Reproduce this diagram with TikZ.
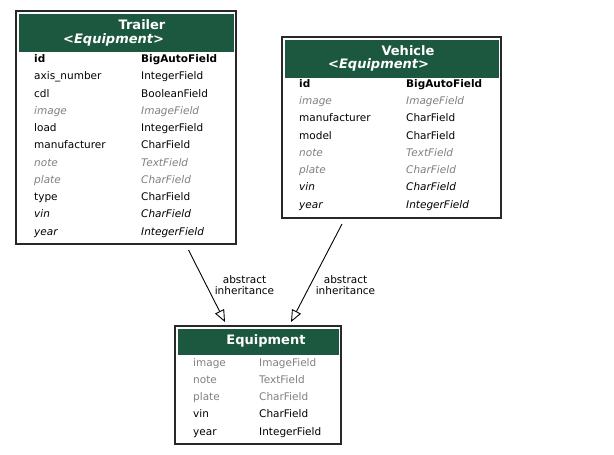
\documentclass[tikz,border=0pt]{standalone}
\usepackage{fontspec}
\setmainfont{DejaVu Sans}
\usetikzlibrary{arrows.meta}
\definecolor{hdr}{RGB}{28,88,64}
\definecolor{fgray}{RGB}{128,128,128}
\definecolor{bord}{RGB}{40,40,40}
\tikzset{
  frame/.style={draw=bord, line width=1.3pt, fill=white},
  head/.style={fill=hdr, draw=none},
  ttl/.style={inner sep=0pt, anchor=base, text=white, font=\fontsize{13}{15}\selectfont\bfseries},
  sub/.style={inner sep=0pt, anchor=base west, text=white, font=\fontsize{13}{15}\selectfont\bfseries\itshape},
  fld/.style={inner sep=0pt, anchor=base west, font=\fontsize{10.5}{12}\selectfont},
  pk/.style={fld, font=\fontsize{10.5}{12}\selectfont\bfseries},
  inh/.style={fld, text=fgray, font=\fontsize{10.5}{12}\selectfont\itshape},
  abs/.style={fld, font=\fontsize{10.5}{12}\selectfont\itshape},
  ghost/.style={fld, text=fgray},
  lbl/.style={inner sep=0pt, align=center, font=\fontsize{10.5}{11.5}\selectfont},
  inharrow/.style={draw=black, line width=0.9pt, -{Triangle[open, length=12pt, width=10pt, fill=white]}}
}
\begin{document}
\begin{tikzpicture}[x=1pt, y=-1pt]
\useasboundingbox (0,0) rectangle (614,455);
% ---------- Trailer ----------
\draw[frame] (16,11) rectangle (236,244);
\fill[head] (18.5,13.5) rectangle (233.5,52);
\node[ttl] (trt) at (142,30) {Trailer};
\node[sub] (trs) at (63,43) {<Equipment>};
\node[pk]  (t1n) at (34,62.5) {id};            \node[pk]  (t1t) at (141,62.5) {BigAutoField};
\node[fld] (t2n) at (34,79.75) {axis\_number}; \node[fld] (t2t) at (141,79.75) {IntegerField};
\node[fld] (t3n) at (34,97) {cdl};             \node[fld] (t3t) at (141,97) {BooleanField};
\node[inh] (t4n) at (34,114.25) {image};       \node[inh] (t4t) at (141,114.25) {ImageField};
\node[fld] (t5n) at (34,131.5) {load};         \node[fld] (t5t) at (141,131.5) {IntegerField};
\node[fld] (t6n) at (34,148.75) {manufacturer};\node[fld] (t6t) at (141,148.75) {CharField};
\node[inh] (t7n) at (34,166) {note};           \node[inh] (t7t) at (141,166) {TextField};
\node[inh] (t8n) at (34,183.25) {plate};       \node[inh] (t8t) at (141,183.25) {CharField};
\node[fld] (t9n) at (34,200.5) {type};         \node[fld] (t9t) at (141,200.5) {CharField};
\node[abs] (t10n) at (34,217.75) {vin};        \node[abs] (t10t) at (141,217.75) {CharField};
\node[abs] (t11n) at (34,235) {year};          \node[abs] (t11t) at (141,235) {IntegerField};
% ---------- Vehicle ----------
\draw[frame] (282,37) rectangle (501,218);
\fill[head] (284.5,39.5) rectangle (498.5,78);
\node[ttl] (vet) at (408,55) {Vehicle};
\node[sub] (ves) at (328,68.5) {<Equipment>};
\node[pk]  (v1n) at (299,87.3) {id};             \node[pk]  (v1t) at (406,87.3) {BigAutoField};
\node[inh] (v2n) at (299,104.55) {image};        \node[inh] (v2t) at (406,104.55) {ImageField};
\node[fld] (v3n) at (299,121.8) {manufacturer};  \node[fld] (v3t) at (406,121.8) {CharField};
\node[fld] (v4n) at (299,139.05) {model};        \node[fld] (v4t) at (406,139.05) {CharField};
\node[inh] (v5n) at (299,156.3) {note};          \node[inh] (v5t) at (406,156.3) {TextField};
\node[inh] (v6n) at (299,173.55) {plate};        \node[inh] (v6t) at (406,173.55) {CharField};
\node[abs] (v7n) at (299,190.8) {vin};           \node[abs] (v7t) at (406,190.8) {CharField};
\node[abs] (v8n) at (299,208.05) {year};         \node[abs] (v8t) at (406,208.05) {IntegerField};
% ---------- Equipment ----------
\draw[frame] (175,326) rectangle (341,444);
\fill[head] (177.5,328.5) rectangle (338.5,355);
\node[ttl] (eqt) at (266,344) {Equipment};
\node[ghost] (e1n) at (193,366) {image};     \node[ghost] (e1t) at (259,366) {ImageField};
\node[ghost] (e2n) at (193,383.25) {note};   \node[ghost] (e2t) at (259,383.25) {TextField};
\node[ghost] (e3n) at (193,400.5) {plate};   \node[ghost] (e3t) at (259,400.5) {CharField};
\node[fld]   (e4n) at (193,417.75) {vin};    \node[fld]   (e4t) at (259,417.75) {CharField};
\node[fld]   (e5n) at (193,435) {year};      \node[fld]   (e5t) at (259,435) {IntegerField};
% ---------- connectors ----------
\coordinate (a1s) at (188.5,250);
\coordinate (a1e) at (225,322);
\coordinate (a2s) at (342,224);
\coordinate (a2e) at (291,322);
\draw[inharrow] (a1s) -- (a1e);
\draw[inharrow] (a2s) -- (a2e);
\node[lbl] (l1) at (244.5,285) {abstract\\inheritance};
\node[lbl] (l2) at (345.5,285) {abstract\\inheritance};
\end{tikzpicture}
\end{document}
